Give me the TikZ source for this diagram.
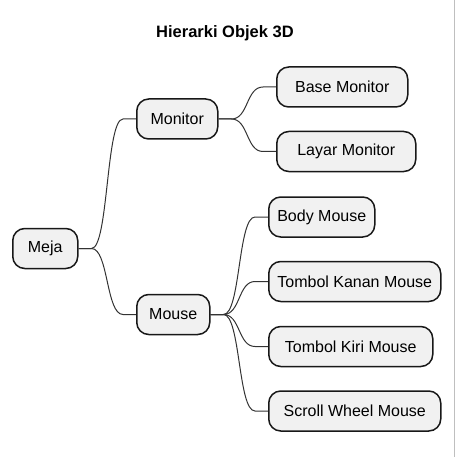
\documentclass[tikz,border=0pt]{standalone}
\usepackage{fontspec}
\setmainfont{Liberation Sans}
\usetikzlibrary{calc}
\definecolor{boxfill}{HTML}{F1F1F1}
\definecolor{boxline}{HTML}{181818}
\definecolor{edgeline}{HTML}{333333}
\tikzset{
  topic/.style={draw=boxline, fill=boxfill, line width=1.5pt, rounded corners=12pt, minimum height=40pt, inner xsep=6pt, anchor=west, font=\fontsize{16}{19}\selectfont},
  branch/.style={draw=edgeline, line width=1pt, to path={-- ++(13pt,0) .. controls +(17pt,0) and +(-17pt,0) .. ($(\tikztotarget.west)+(-13pt,0)$) -- (\tikztotarget.west)}}
}
\begin{document}
\begin{tikzpicture}[x=1pt, y=-1pt]
    \useasboundingbox (0,0) rectangle (455,457);
    \draw[gray!50, line width=1pt] (454,0) -- (454,457);
    \node[font=\bfseries\fontsize{16.5}{20}\selectfont] (title) at (225,33) {Hierarki Objek 3D};
    \node[topic, minimum width=65pt] (meja) at (12,248.5) {Meja};
    \node[topic, minimum width=81pt] (monitor) at (136,119) {Monitor};
    \node[topic, minimum width=73pt] (mouse) at (136,314.5) {Mouse};
    \node[topic, minimum width=131pt] (basemon) at (276,87) {Base Monitor};
    \node[topic, minimum width=139pt] (layarmon) at (276,151.5) {Layar Monitor};
    \node[topic, minimum width=106pt] (bodymouse) at (268,217) {Body Mouse};
    \node[topic, minimum width=172pt] (kanan) at (268,281.5) {Tombol Kanan Mouse};
    \node[topic, minimum width=164pt] (kiri) at (268,346.5) {Tombol Kiri Mouse};
    \node[topic, minimum width=172pt] (scroll) at (268,411) {Scroll Wheel Mouse};
    \draw[branch] (meja.east) to (monitor);
    \draw[branch] (meja.east) to (mouse);
    \draw[branch] (monitor.east) to (basemon);
    \draw[branch] (monitor.east) to (layarmon);
    \draw[branch] (mouse.east) to (bodymouse);
    \draw[branch] (mouse.east) to (kanan);
    \draw[branch] (mouse.east) to (kiri);
    \draw[branch] (mouse.east) to (scroll);
  \end{tikzpicture}
\end{document}
